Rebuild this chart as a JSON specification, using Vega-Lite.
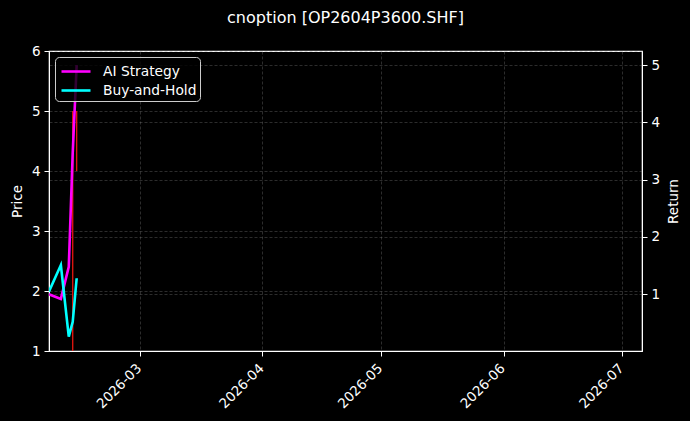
{
  "$schema": "https://vega.github.io/schema/vega-lite/v6.json",
  "width": 593,
  "height": 300,
  "autosize": {"type": "none"},
  "padding": {"left": 49, "top": 51, "right": 48, "bottom": 70},
  "background": "#000000",
  "title": {
    "text": "cnoption [OP2604P3600.SHF]",
    "color": "#ffffff",
    "font": "DejaVu Sans",
    "fontSize": 16,
    "fontWeight": "normal",
    "anchor": "middle",
    "offset": 18
  },
  "datasets": {
    "curves": [
      {"date": "2026-02-06", "series": "AI Strategy", "value": 1.0},
      {"date": "2026-02-09", "series": "AI Strategy", "value": 0.92},
      {"date": "2026-02-11", "series": "AI Strategy", "value": 1.48},
      {"date": "2026-02-12", "series": "AI Strategy", "value": 3.47},
      {"date": "2026-02-13", "series": "AI Strategy", "value": 5.0},
      {"date": "2026-02-06", "series": "Buy-and-Hold", "value": 1.05},
      {"date": "2026-02-09", "series": "Buy-and-Hold", "value": 1.51},
      {"date": "2026-02-11", "series": "Buy-and-Hold", "value": 0.26},
      {"date": "2026-02-12", "series": "Buy-and-Hold", "value": 0.52},
      {"date": "2026-02-13", "series": "Buy-and-Hold", "value": 1.28}
    ],
    "price": [
      {"date": "2026-02-12", "low": 0.5, "high": 5.0},
      {"date": "2026-02-13", "low": 4.0, "high": 5.0}
    ]
  },
  "encoding": {
    "x": {
      "field": "date", "type": "temporal",
      "scale": {
        "type": "utc",
        "domain": [
          {"year": 2026, "month": 2, "date": 6, "utc": true},
          {"year": 2026, "month": 7, "date": 6, "utc": true}
        ]
      },
      "axis": {
        "title": null,
        "labelExpr": "utcFormat(datum.value, '%Y-%m')",
        "tickCount": {"interval": "month", "step": 1},
        "labelAngle": -45,
        "labelAlign": "right",
        "labelBaseline": "top",
        "labelPadding": 5,
        "labelOffset": -6,
        "grid": true
      }
    }
  },
  "layer": [
    {
      "data": {"name": "price"},
      "mark": {"type": "rule", "color": "#e8170f", "strokeWidth": 1.3, "clip": true},
      "encoding": {
        "y": {
          "field": "low", "type": "quantitative",
          "scale": {"domain": [1, 6], "nice": false, "zero": false},
          "axis": {"title": "Price", "values": [1, 2, 3, 4, 5, 6], "grid": true, "orient": "left"}
        },
        "y2": {"field": "high"}
      }
    },
    {
      "data": {"name": "curves"},
      "mark": {"type": "line", "strokeWidth": 2.6, "clip": true},
      "encoding": {
        "y": {
          "field": "value", "type": "quantitative",
          "scale": {"domain": [0.0105, 5.246], "nice": false, "zero": false},
          "axis": {
            "title": "Return", "values": [1, 2, 3, 4, 5], "grid": true, "orient": "right",
            "titleAngle": 270, "titleX": 31, "titleY": 150,
            "titleAlign": "center", "titleBaseline": "middle"
          }
        },
        "color": {
          "field": "series", "type": "nominal",
          "scale": {"domain": ["AI Strategy", "Buy-and-Hold"], "range": ["#ff00ff", "#00ffff"]},
          "legend": {
            "title": null,
            "orient": "top-left",
            "offset": 6,
            "fillColor": "rgba(0,0,0,0.8)",
            "strokeColor": "#cccccc",
            "cornerRadius": 4,
            "padding": 3,
            "symbolType": "M-0.8,0H2.1",
            "symbolStrokeWidth": 2.6,
            "symbolSize": 400,
            "labelColor": "#ffffff",
            "labelFont": "DejaVu Sans",
            "labelFontSize": 13.8,
            "rowPadding": 0,
            "labelOffset": 22
          }
        }
      }
    }
  ],
  "resolve": {"scale": {"y": "independent"}},
  "config": {
    "font": "DejaVu Sans",
    "view": {"stroke": "#ffffff", "strokeWidth": 1.2},
    "axis": {
      "domainColor": "#ffffff",
      "tickColor": "#ffffff",
      "tickSize": 5,
      "labelColor": "#ffffff",
      "labelFont": "DejaVu Sans",
      "labelFontSize": 13.5,
      "labelPadding": 4,
      "titleColor": "#ffffff",
      "titleFont": "DejaVu Sans",
      "titleFontSize": 13.5,
      "titleFontWeight": "normal",
      "titlePadding": 7,
      "gridColor": "#8a8a8a",
      "gridOpacity": 0.4,
      "gridDash": [3, 2],
      "gridWidth": 0.8
    }
  }
}
